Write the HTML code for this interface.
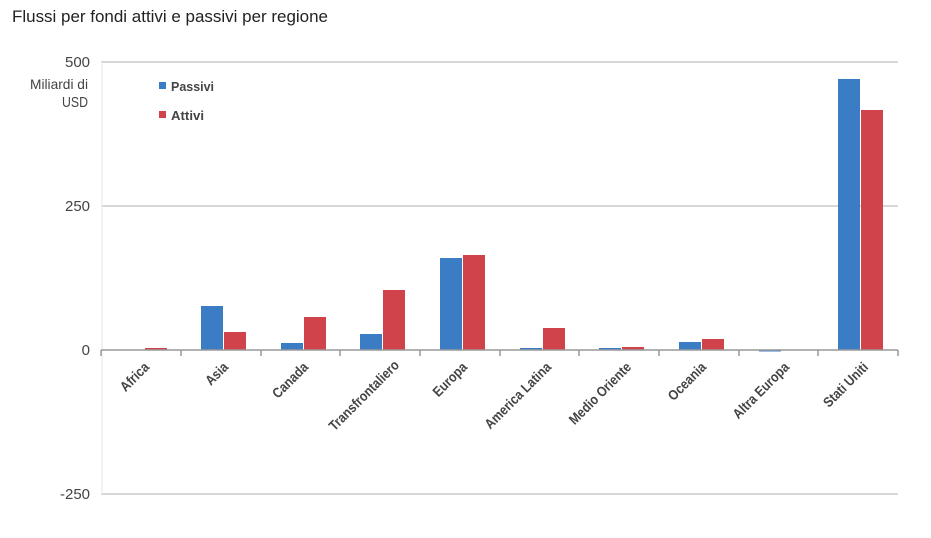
<!DOCTYPE html>
<html><head><meta charset="utf-8"><style>
body{margin:0;background:#fff;width:931px;height:533px;overflow:hidden}
text{font-family:"Liberation Sans Narrow","Liberation Sans",sans-serif}
</style></head><body>
<svg width="931" height="533" xmlns="http://www.w3.org/2000/svg">
<text x="12" y="22" font-size="17" fill="#222" textLength="316" lengthAdjust="spacingAndGlyphs">Flussi per fondi attivi e passivi per regione</text>
<g stroke="#c8c8c8" stroke-width="1.5">
<line x1="101" y1="62" x2="898" y2="62"/>
<line x1="101" y1="206" x2="898" y2="206"/>
<line x1="101" y1="494" x2="898" y2="494"/>
</g>
<line x1="102" y1="62" x2="102" y2="494" stroke="#eeeeee" stroke-width="1.5"/>
<g font-size="15" fill="#444" text-anchor="end">
<text x="90" y="67" textLength="25" lengthAdjust="spacingAndGlyphs">500</text>
<text x="90" y="211" textLength="25" lengthAdjust="spacingAndGlyphs">250</text>
<text x="90" y="355">0</text>
<text x="90" y="499" textLength="30" lengthAdjust="spacingAndGlyphs">-250</text>
<text x="88" y="89" font-size="14" textLength="58" lengthAdjust="spacingAndGlyphs">Miliardi di</text>
<text x="88" y="107" font-size="15" textLength="26" lengthAdjust="spacingAndGlyphs">USD</text>
</g>
<rect x="159" y="82" width="7" height="7" fill="#3b7dc4"/>
<text x="171" y="91" font-size="13" font-weight="bold" fill="#444" textLength="43" lengthAdjust="spacingAndGlyphs">Passivi</text>
<rect x="159" y="111" width="7" height="7" fill="#d0434b"/>
<text x="171" y="120" font-size="13" font-weight="bold" fill="#444" textLength="33" lengthAdjust="spacingAndGlyphs">Attivi</text>
<g fill="#3b7dc4">
<rect x="201" y="306" width="22" height="44"/>
<rect x="281" y="343" width="22" height="7"/>
<rect x="360" y="334" width="22" height="16"/>
<rect x="440" y="258" width="22" height="92"/>
<rect x="520" y="348" width="22" height="2"/>
<rect x="599" y="348" width="22" height="2"/>
<rect x="679" y="342" width="22" height="8"/>
<rect x="759" y="350" width="22" height="1.5"/>
<rect x="838" y="79" width="22" height="271"/>
</g>
<g fill="#d0434b">
<rect x="145" y="348" width="22" height="2"/>
<rect x="224" y="332" width="22" height="18"/>
<rect x="304" y="317" width="22" height="33"/>
<rect x="383" y="290" width="22" height="60"/>
<rect x="463" y="255" width="22" height="95"/>
<rect x="543" y="328" width="22" height="22"/>
<rect x="622" y="347" width="22" height="3"/>
<rect x="702" y="339" width="22" height="11"/>
<rect x="861" y="110" width="22" height="240"/>
</g>
<g stroke="#999" stroke-width="1.5">
<line x1="101" y1="350" x2="898" y2="350"/>
<line x1="101" y1="350" x2="101" y2="356"/><line x1="181" y1="350" x2="181" y2="356"/>
<line x1="261" y1="350" x2="261" y2="356"/><line x1="340" y1="350" x2="340" y2="356"/>
<line x1="420" y1="350" x2="420" y2="356"/><line x1="500" y1="350" x2="500" y2="356"/>
<line x1="579" y1="350" x2="579" y2="356"/><line x1="659" y1="350" x2="659" y2="356"/>
<line x1="739" y1="350" x2="739" y2="356"/><line x1="818" y1="350" x2="818" y2="356"/>
<line x1="898" y1="350" x2="898" y2="356"/>
</g>
<g font-size="14" font-weight="bold" fill="#444" text-anchor="end">
<text transform="translate(150,368) rotate(-45) scale(0.87,1)">Africa</text>
<text transform="translate(229,368) rotate(-45) scale(0.87,1)">Asia</text>
<text transform="translate(309,368) rotate(-45) scale(0.87,1)">Canada</text>
<text transform="translate(400,366) rotate(-45) scale(0.87,1)">Transfrontaliero</text>
<text transform="translate(468,368) rotate(-45) scale(0.87,1)">Europa</text>
<text transform="translate(552,368) rotate(-45) scale(0.87,1)">America Latina</text>
<text transform="translate(632,368) rotate(-45) scale(0.87,1)">Medio Oriente</text>
<text transform="translate(707,368) rotate(-45) scale(0.87,1)">Oceania</text>
<text transform="translate(790,368) rotate(-45) scale(0.87,1)">Altra Europa</text>
<text transform="translate(869,368) rotate(-45) scale(0.87,1)">Stati Uniti</text>
</g>
</svg>
</body></html>
